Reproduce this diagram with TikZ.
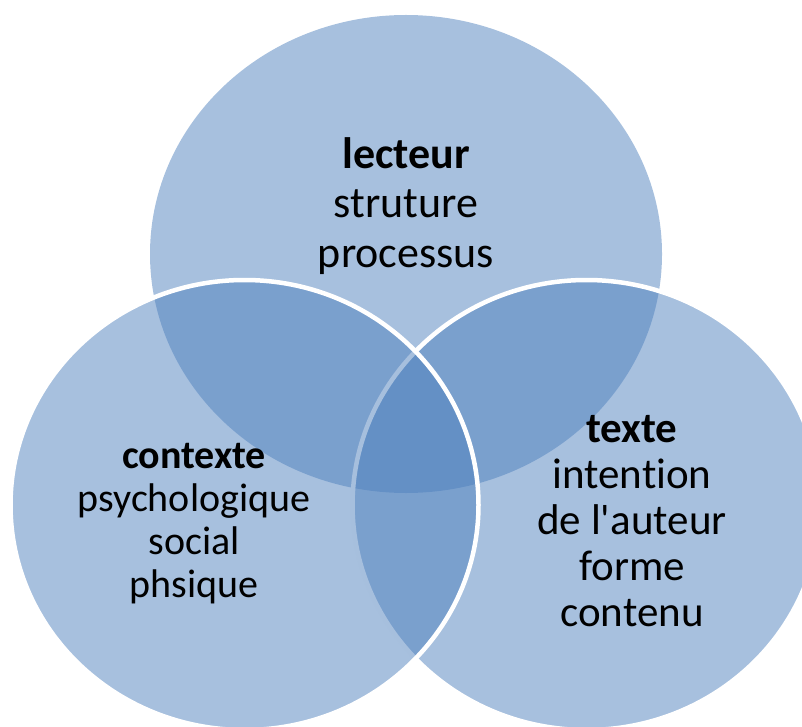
\documentclass[tikz,border=0pt]{standalone}
\usepackage{fontspec}
\setmainfont{Carlito}[Ligatures={NoCommon,TeXOff}]
\definecolor{accent}{HTML}{4F81BD}
\tikzset{
  venn/.style={fill=accent, fill opacity=0.5},
  vennline/.style={venn, draw=white, draw opacity=1, line width=4.5pt},
  lbl/.style={align=center, text=black, inner sep=0pt}
}
\begin{document}
\begin{tikzpicture}[x=1pt,y=-1pt]
\useasboundingbox (0,0) rectangle (802,727);
\begin{scope}
\clip (0,0) rectangle (802,727);
\path[venn] (406,254) ellipse [x radius=256pt, y radius=239pt];
\path[vennline] (586.5,505) ellipse [x radius=234pt, y radius=225pt];
\path[vennline] (244.5,505) ellipse [x radius=234pt, y radius=225pt];
\end{scope}
\node[lbl, font=\fontsize{44}{49.5}\selectfont] (lecteur) at (406,206) {\textbf{lecteur}\\struture\\processus};
\node[lbl, font=\fontsize{40}{43}\selectfont] (contexte) at (194,524) {\textbf{contexte}\\psychologique\\social\\phsique};
\node[lbl, font=\fontsize{43}{46}\selectfont] (texte) at (632,521) {\textbf{texte}\\intention\\de l'auteur\\forme\\contenu};
\end{tikzpicture}
\end{document}
